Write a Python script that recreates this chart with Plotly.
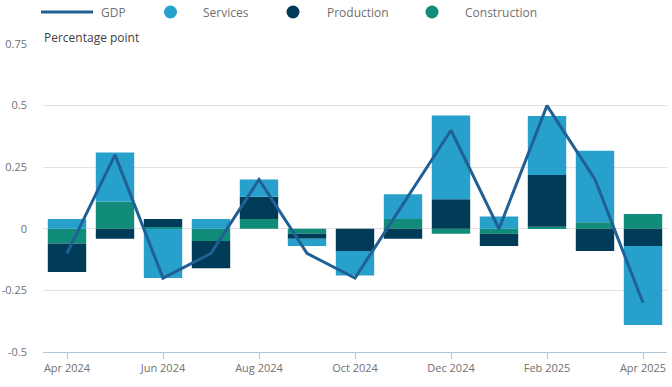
import plotly.graph_objects as go

months = ["Apr 2024", "May 2024", "Jun 2024", "Jul 2024", "Aug 2024", "Sep 2024",
          "Oct 2024", "Nov 2024", "Dec 2024", "Jan 2025", "Feb 2025", "Mar 2025", "Apr 2025"]
gdp = [-0.1, 0.3, -0.2, -0.1, 0.2, -0.1, -0.2, 0.1, 0.4, 0.0, 0.5, 0.2, -0.3]
services = [0.04, 0.2, -0.2, 0.04, 0.07, -0.03, -0.1, 0.1, 0.34, 0.05, 0.24, 0.29, -0.32]
production = [-0.115, -0.04, 0.033, -0.11, 0.09, -0.02, -0.09, -0.04, 0.12, -0.05, 0.21, -0.09, -0.07]
construction = [-0.06, 0.11, 0.007, -0.05, 0.04, -0.02, 0.0, 0.04, -0.02, -0.02, 0.008, 0.027, 0.06]

tick_vals = months[::2]
tick_text = months[::2]
y_ticks = [-0.5, -0.25, 0, 0.25, 0.5, 0.75]
y_text = ["-0.5", "-0.25", "0", "0.25", "0.5", "0.75"]

C_GDP = "#206095"
C_SERV = "#27a0cc"
C_PROD = "#003c57"
C_CONS = "#118c7b"
TXT = "#707070"

fig = go.Figure()
fig.add_bar(x=months, y=construction, name="Construction", marker_color=C_CONS,
            marker_line_width=0, showlegend=False)
fig.add_bar(x=months, y=production, name="Production", marker_color=C_PROD,
            marker_line_width=0, showlegend=False)
fig.add_bar(x=months, y=services, name="Services", marker_color=C_SERV,
            marker_line_width=0, showlegend=False)
fig.add_scatter(x=months, y=gdp, mode="lines", name="GDP",
                line=dict(color=C_GDP, width=3), showlegend=False)

# Manual legend (pixel-positioned in paper coordinates)
W, H = 672, 387
ml, mr, mt, mb = 43, 5, 44, 35
pw, ph = W - ml - mr, H - mt - mb


def px(x):
    return (x - ml) / pw


def py(y):
    return (H - mb - y) / ph


shapes = []
annots = []
shapes.append(dict(type="line", xref="paper", yref="paper", x0=px(41), x1=px(93),
                   y0=py(12), y1=py(12), line=dict(color=C_GDP, width=3)))
annots.append(dict(text="GDP", x=px(99), y=py(12.5), xanchor="left", yanchor="middle"))
for cx, col, tx, label in [(170.5, C_SERV, 201, "Services"), (293, C_PROD, 325, "Production"),
                           (432, C_CONS, 463, "Construction")]:
    r = 6.5
    shapes.append(dict(type="circle", xref="paper", yref="paper", x0=px(cx - r), x1=px(cx + r),
                       y0=py(12 + r), y1=py(12 - r), fillcolor=col, line_width=0))
    annots.append(dict(text=label, x=px(tx), y=py(12.5), xanchor="left", yanchor="middle"))
for a in annots:
    a.update(xref="paper", yref="paper", showarrow=False,
             font=dict(family="Open Sans", size=12, color=TXT))
annots.append(dict(text="Percentage point", xref="paper", yref="paper", x=px(42), y=py(37),
                   xanchor="left", yanchor="middle", showarrow=False,
                   font=dict(family="Open Sans", size=12, color="#414042")))

fig.update_layout(
    width=W, height=H,
    margin=dict(l=ml, r=mr, t=mt, b=mb, autoexpand=False),
    barmode="relative", bargap=0.2,
    plot_bgcolor="white", paper_bgcolor="white",
    font=dict(family="Open Sans", size=11, color=TXT),
    shapes=shapes, annotations=annots,
    xaxis=dict(type="category", range=[-0.5, 12.5], tickvals=tick_vals, ticktext=tick_text,
               ticks="outside", ticklen=6, tickcolor="#b3c6d6", showline=True,
               linecolor="#b3c6d6", linewidth=1, showgrid=False, automargin=False,
               tickfont=dict(family="Open Sans", size=11, color=TXT)),
    yaxis=dict(range=[-0.5, 0.75], tickvals=y_ticks, ticktext=y_text, showgrid=True,
               gridcolor="#e2e2e3", gridwidth=1, zeroline=False, ticks="", ticklabelstandoff=15,
               automargin=False,
               tickfont=dict(family="Open Sans", size=11, color=TXT)),
)

fig.write_html("out.html", config={"displayModeBar": False},
               post_script="document.body.style.margin='0';")
